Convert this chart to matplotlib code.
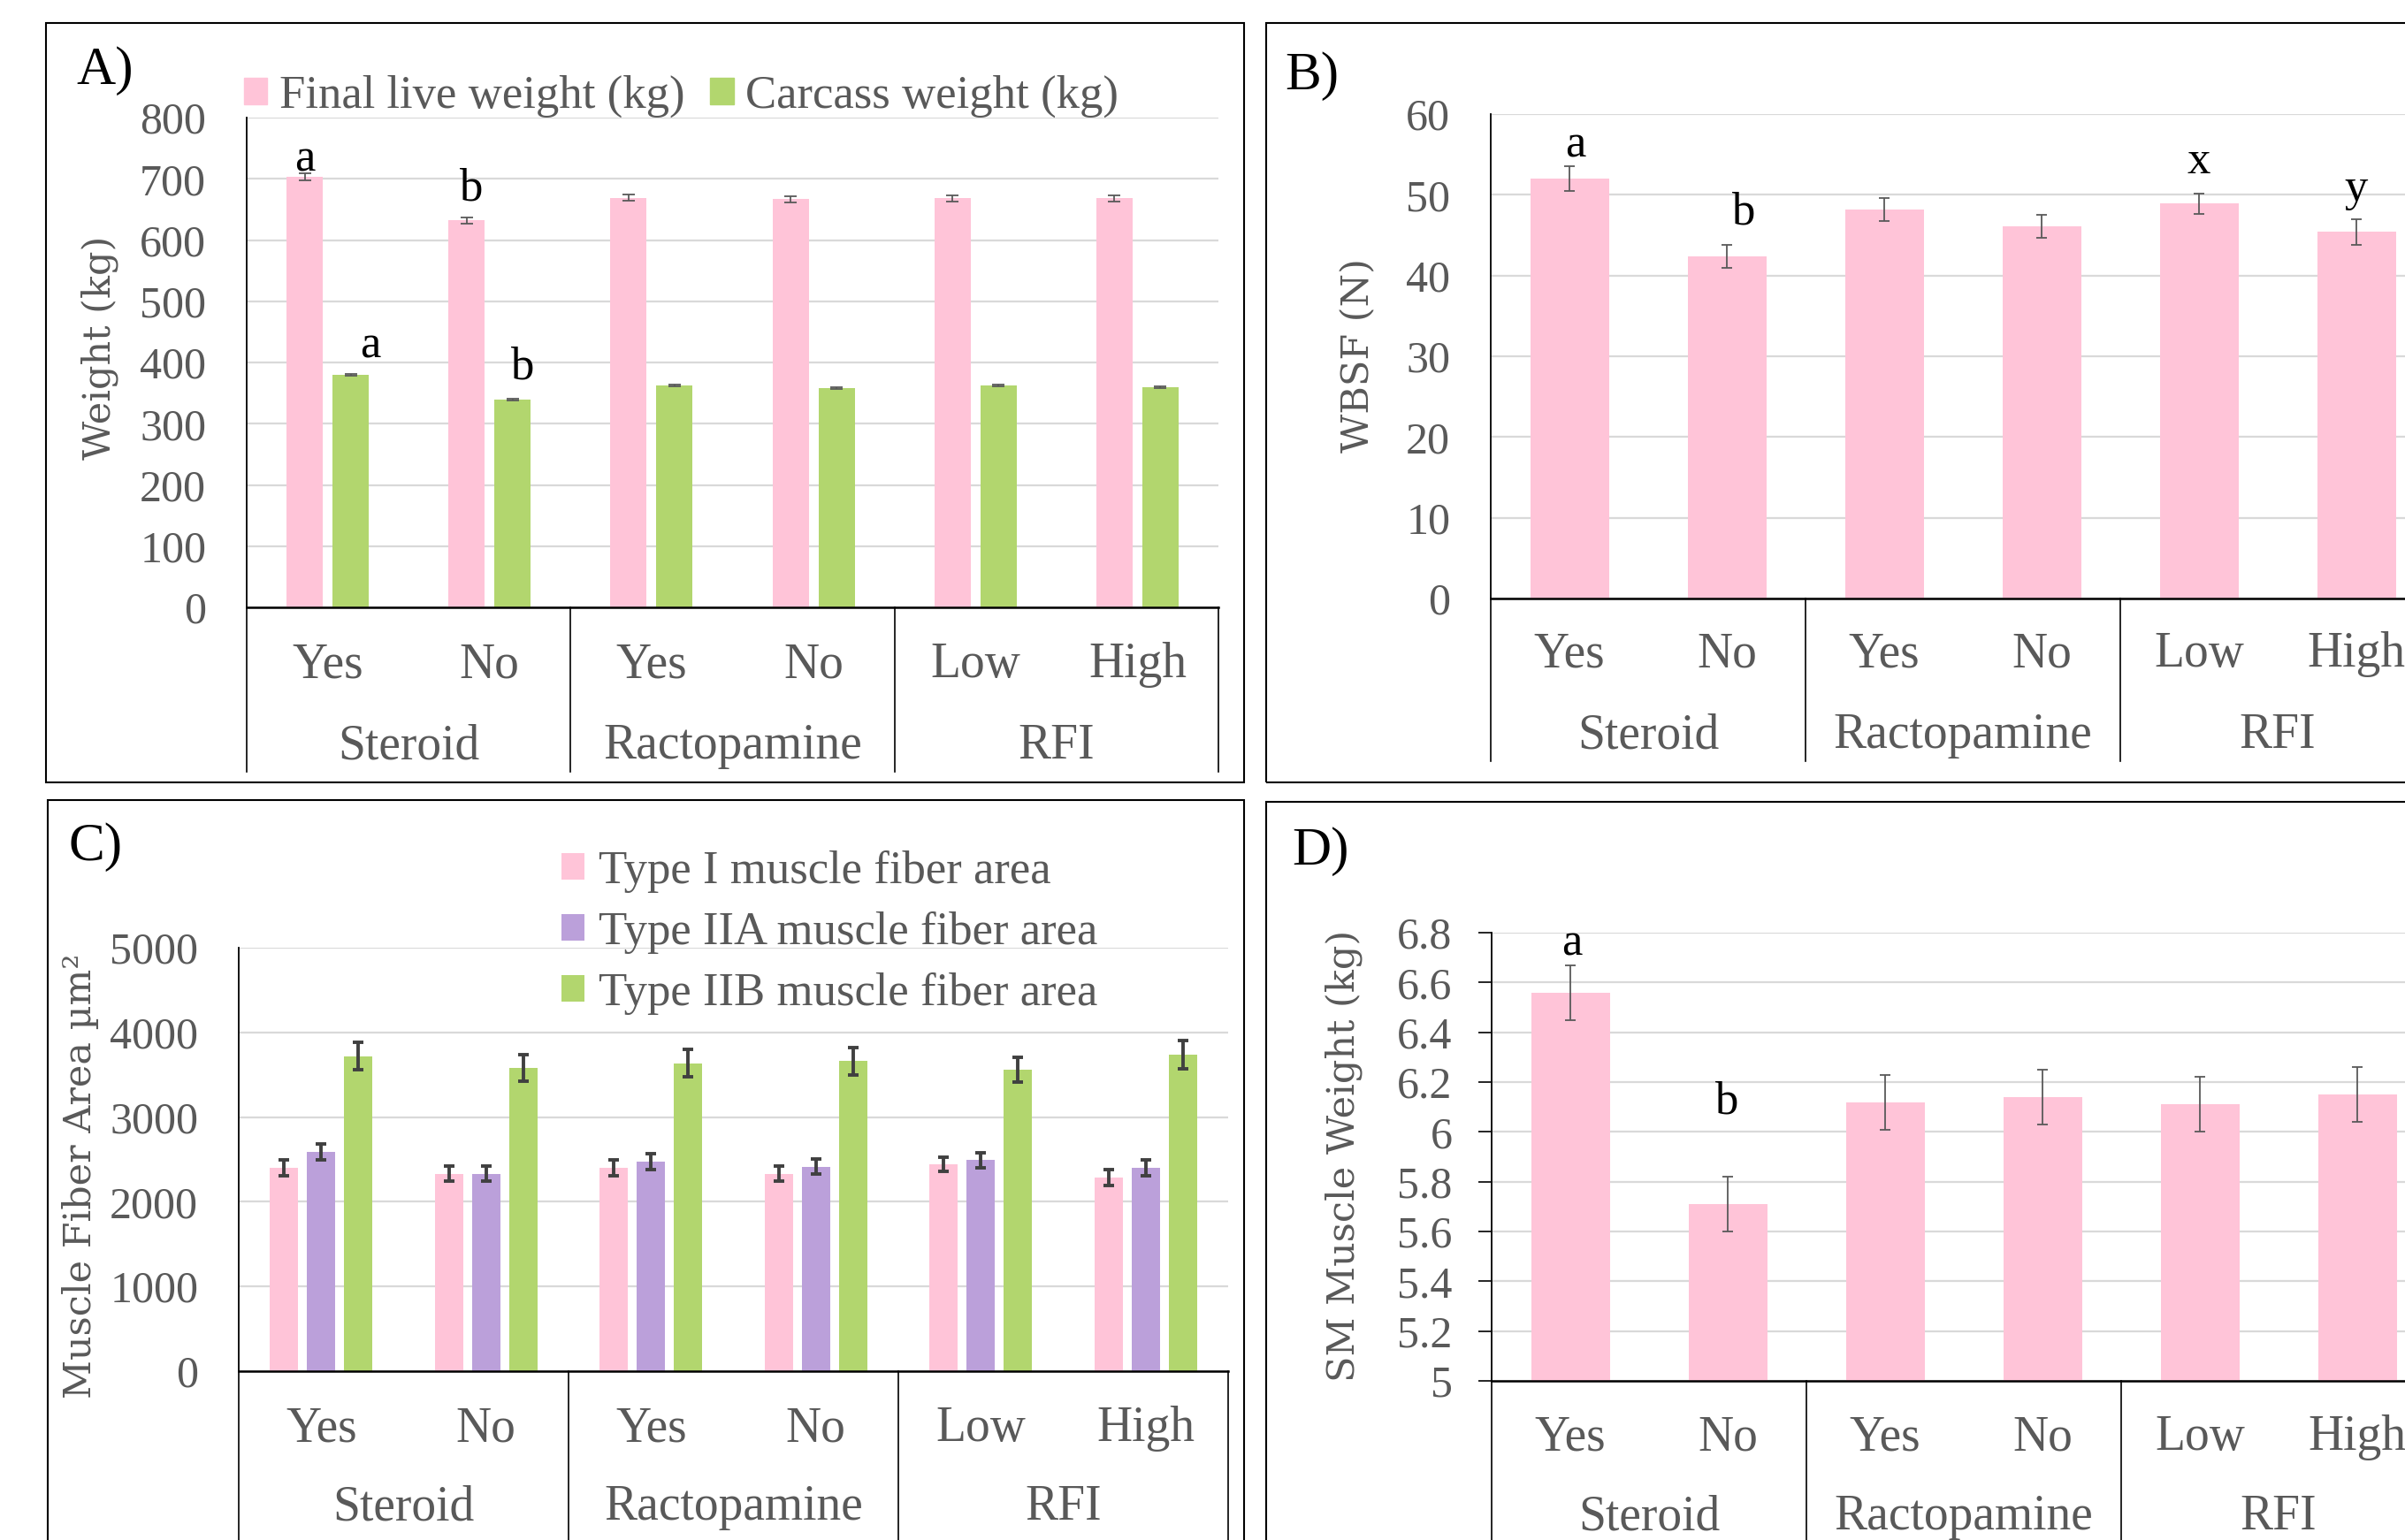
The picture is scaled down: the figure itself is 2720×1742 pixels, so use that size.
import matplotlib
matplotlib.use('Agg')
import matplotlib.pyplot as plt
from matplotlib.patches import Rectangle, Patch
import numpy as np

plt.rcParams['font.family'] = ['Liberation Serif', 'DejaVu Serif']

# data
subcats = ['Yes', 'No', 'Yes', 'No', 'Low', 'High']
groups = ['Steroid', 'Ractopamine', 'RFI']

live_wt = [703, 632, 669, 667, 668, 668]
live_err = [6, 5, 5, 5, 5, 5]
carcass_wt = [380, 340, 362, 358, 362, 359]
carcass_err = [1.5, 1.5, 1.5, 1.5, 1.5, 1.5]

wbsf = [52.0, 42.4, 48.2, 46.1, 48.9, 45.4]
wbsf_err = [1.5, 1.4, 1.4, 1.4, 1.3, 1.6]

type1 = [2400, 2330, 2400, 2330, 2445, 2290]
type1_err = [95, 90, 90, 90, 85, 95]
type2a = [2590, 2330, 2470, 2415, 2490, 2400]
type2a_err = [95, 90, 95, 90, 90, 95]
type2b = [3720, 3580, 3635, 3660, 3560, 3740]
type2b_err = [165, 155, 160, 160, 145, 165]

sm_wt = [6.56, 5.71, 6.12, 6.14, 6.11, 6.15]
sm_err = [0.11, 0.11, 0.11, 0.11, 0.11, 0.11]

# significance letters: (text, x, y)
letters_a = [('a', -0.142, 712), ('b', 0.88, 665), ('a', 0.262, 408), ('b', 1.2, 374)]
letters_b = [('a', 0.04, 54.7), ('b', 1.1, 46.4), ('x', 4.0, 52.7), ('y', 5.0, 49.3)]
letters_d = [('a', 0.01, 6.71), ('b', 0.99, 6.075)]

PINK = '#FFC4D8'
GREEN = '#B2D66E'
PURPLE = '#BBA0DA'
GRAY = '#595959'

W, H = 2720, 1742
fig = plt.figure(figsize=(W / 100, H / 100), dpi=100)


def add_ax(x0, t, x1, b):
    return fig.add_axes([x0 / W, 1 - b / H, (x1 - x0) / W, (b - t) / H])


def box(x0, t, x1, b):
    fig.patches.append(Rectangle((x0 / W, 1 - b / H), (x1 - x0) / W, (b - t) / H,
                                 transform=fig.transFigure, fill=False,
                                 edgecolor='black', lw=1.5))


def setup(ax, t, b, ylim, ticks, yes_px, grp_px, line_px, tick_len=0, pad=33):
    frac = lambda y: (b - y) / (b - t)
    ax.set_xlim(-0.5, 5.5)
    ax.set_ylim(*ylim)
    ax.set_yticks(ticks)
    ax.set_yticklabels([f'{round(v, 1):g}' for v in ticks])
    ax.set_xticks([])
    ax.tick_params(axis='y', length=tick_len, width=1.2, pad=pad, labelsize=36,
                   labelcolor=GRAY, direction='out')
    ax.yaxis.grid(True, color='#d9d9d9', lw=1.6)
    ax.set_axisbelow(True)
    for s in ['top', 'right']:
        ax.spines[s].set_visible(False)
    ax.spines['left'].set_linewidth(1.3)
    ax.spines['bottom'].set_linewidth(1.8)
    tr = ax.get_xaxis_transform()
    for i, s in enumerate(subcats):
        ax.text(i, frac(yes_px), s, transform=tr, ha='center', va='center',
                fontsize=40, color=GRAY)
    for g, name in enumerate(groups):
        ax.text(2 * g + 0.5, frac(grp_px), name, transform=tr, ha='center',
                va='center', fontsize=40, color=GRAY)
    for xb in [-0.5, 1.5, 3.5, 5.5]:
        ax.plot([xb, xb], [0, frac(line_px)], transform=tr, color='black',
                lw=1.2, clip_on=False)


def ylab(ax, text, t, b, x0, x1, cx, cy):
    ax.set_ylabel(text, family='DejaVu Serif', fontsize=31, color=GRAY,
                  va='center', ha='center', rotation_mode='anchor')
    ax.yaxis.set_label_coords((cx - x0) / (x1 - x0), (b - cy) / (b - t))


x = np.arange(6)

# ---------- A ----------
box(52, 26, 1407, 885)
axA = add_ax(279, 133, 1378, 687)
setup(axA, 133, 687, (0, 800), np.arange(0, 801, 100), 752, 844, 873)
axA.bar(x - 0.142, live_wt, 0.224, color=PINK, label='Final live weight (kg)')
axA.bar(x + 0.142, carcass_wt, 0.224, color=GREEN, label='Carcass weight (kg)')
axA.errorbar(x - 0.142, live_wt, yerr=live_err, fmt='none', ecolor=GRAY,
             elinewidth=1.3, capsize=5, capthick=1.3)
axA.errorbar(x + 0.142, carcass_wt, yerr=carcass_err, fmt='none', ecolor=GRAY,
             elinewidth=1.3, capsize=5, capthick=1.3)
for s, lx, ly in letters_a:
    axA.text(lx, ly, s, ha='center', va='baseline', fontsize=38, color='black')
ylab(axA, 'Weight (kg)', 133, 687, 279, 1378, 113, 393)
fig.text(86 / W, 1 - 80 / H, 'A)', fontsize=44, ha='left', va='center')
fig.legend(handles=[Patch(color=PINK), Patch(color=GREEN)],
           labels=['Final live weight (kg)', 'Carcass weight (kg)'],
           loc='center left', bbox_to_anchor=(276 / W, 1 - 109 / H), ncol=2,
           frameon=False, fontsize=38, labelcolor=GRAY, handlelength=0.5,
           handleheight=0.5, handletextpad=0.25, columnspacing=0.55, borderpad=0,
           borderaxespad=0)

# ---------- B ----------
box(1432, 26, 2800, 885)
axB = add_ax(1686, 129, 2754, 677)
setup(axB, 129, 677, (0, 60), np.arange(0, 61, 10), 740, 832, 861)
axB.bar(x, wbsf, 0.5, color=PINK)
axB.errorbar(x, wbsf, yerr=wbsf_err, fmt='none', ecolor=GRAY, elinewidth=1.3,
             capsize=4.5, capthick=1.3)
for s, lx, ly in letters_b:
    axB.text(lx, ly, s, ha='center', va='baseline', fontsize=38, color='black')
ylab(axB, 'WBSF (N)', 129, 677, 1686, 2754, 1536, 402)
fig.text(1453 / W, 1 - 86 / H, 'B)', fontsize=44, ha='left', va='center')

# ---------- C ----------
box(54, 905, 1407, 1800)
axC = add_ax(270, 1072, 1389, 1551)
setup(axC, 1072, 1551, (0, 5000), np.arange(0, 5001, 1000), 1616, 1705, 1800)
for vals, errs, off, col, lab in [(type1, type1_err, -0.225, PINK, 'Type I muscle fiber area'),
                                  (type2a, type2a_err, 0.0, PURPLE, 'Type IIA muscle fiber area'),
                                  (type2b, type2b_err, 0.225, GREEN, 'Type IIB muscle fiber area')]:
    axC.bar(x + off, vals, 0.172, color=col, label=lab)
    axC.errorbar(x + off, vals, yerr=errs, fmt='none', ecolor='#404040',
                 elinewidth=2.8, capsize=4, capthick=2.8)
ylab(axC, 'Muscle Fiber Area µm²', 1072, 1551, 270, 1389, 91, 1330)
fig.text(77 / W, 1 - 958 / H, 'C)', fontsize=44, ha='left', va='center')
axC.legend(loc='center left', bbox_to_anchor=(635 / W, 1 - 1055 / H),
           bbox_transform=fig.transFigure, frameon=False, fontsize=38,
           labelcolor=GRAY, handlelength=0.5, handleheight=0.5,
           handletextpad=0.3, labelspacing=0.4, borderpad=0, borderaxespad=0)

# ---------- D ----------
box(1432, 907, 2800, 1800)
axD = add_ax(1687, 1055, 2755, 1562)
setup(axD, 1055, 1562, (5, 6.8), np.linspace(5, 6.8, 10), 1626, 1716, 1800,
      tick_len=11, pad=21)
axD.bar(x, sm_wt, 0.5, color=PINK)
axD.errorbar(x, sm_wt, yerr=sm_err, fmt='none', ecolor=GRAY, elinewidth=1.3,
             capsize=4.5, capthick=1.3)
for s, lx, ly in letters_d:
    axD.text(lx, ly, s, ha='center', va='baseline', fontsize=38, color='black')
ylab(axD, 'SM Muscle Weight (kg)', 1055, 1562, 1687, 2755, 1520, 1307)
fig.text(1461 / W, 1 - 963 / H, 'D)', fontsize=44, ha='left', va='center')

fig.savefig('out.png', dpi=100)
